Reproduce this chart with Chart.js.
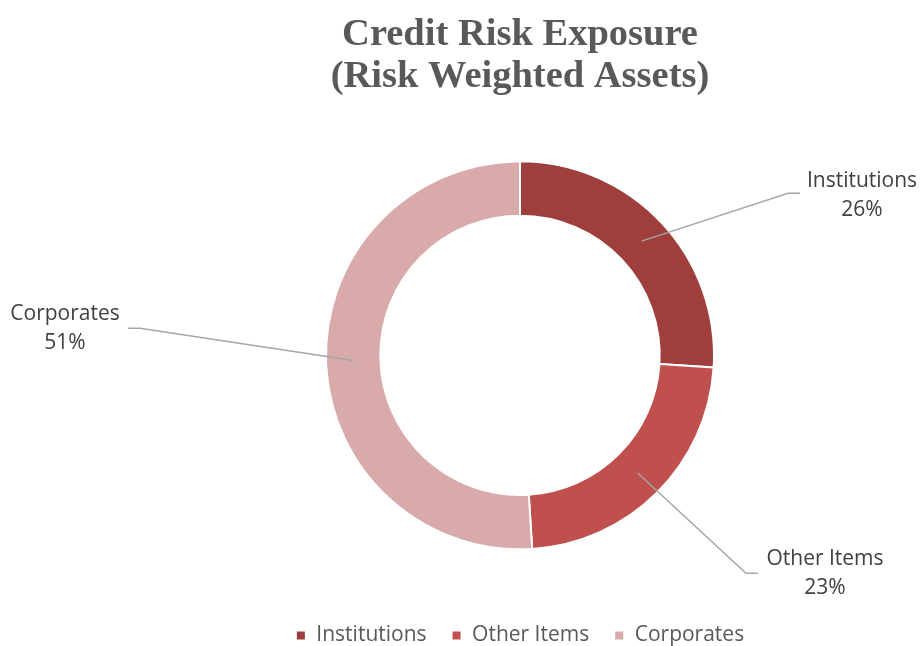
<!DOCTYPE html>
<html>
<head>
<meta charset="utf-8">
<script src="https://cdn.jsdelivr.net/npm/chart.js@4.4.1/dist/chart.umd.min.js"></script>
<style>
  html, body { margin: 0; padding: 0; background: #fff; }
  #wrap { width: 920px; height: 646px; }
</style>
</head>
<body>
<div id="wrap"><canvas id="chart"></canvas></div>
<script>
// data
const categories = ['Institutions', 'Other Items', 'Corporates'];
const shares = [26, 23, 51];
const sliceColors = ['#9E3F3D', '#C0504D', '#D9AAAA'];

// where each data label sits, relative to the doughnut centre
const labelLayout = [
  { elbow: [268, -162], tail: 12, text: [342, -160] },
  { elbow: [226, 218], tail: 12, text: [305, 218] },
  { elbow: [-380, -27], tail: -12, text: [-455, -27] }
];

const leaderLabels = {
  id: 'leaderLabels',
  afterDatasetsDraw(chart) {
    const ctx = chart.ctx;
    const meta = chart.getDatasetMeta(0);
    const total = shares.reduce((a, b) => a + b, 0);
    meta.data.forEach((arc, i) => {
      const p = arc.getProps(['x', 'y', 'startAngle', 'endAngle', 'innerRadius', 'outerRadius'], true);
      const mid = (p.startAngle + p.endAngle) / 2;
      const r = (p.innerRadius + p.outerRadius) / 2;
      const sx = p.x + Math.cos(mid) * r;
      const sy = p.y + Math.sin(mid) * r;
      const lay = labelLayout[i];
      const ex = p.x + lay.elbow[0], ey = p.y + lay.elbow[1];

      ctx.save();
      ctx.strokeStyle = '#A6A6A6';
      ctx.lineWidth = 1.5;
      ctx.beginPath();
      ctx.moveTo(sx, sy);
      ctx.lineTo(ex, ey);
      ctx.lineTo(ex + lay.tail, ey);
      ctx.stroke();

      ctx.fillStyle = '#404040';
      ctx.font = '21px "Open Sans", sans-serif';
      ctx.textAlign = 'center';
      ctx.textBaseline = 'middle';
      const tx = p.x + lay.text[0], ty = p.y + lay.text[1];
      ctx.fillText(categories[i], tx, ty - 14);
      ctx.fillText(Math.round(shares[i] / total * 100) + '%', tx, ty + 15);
      ctx.restore();
    });
  }
};

const ctx = document.getElementById('chart').getContext('2d');
new Chart(ctx, {
  type: 'doughnut',
  data: {
    labels: categories,
    datasets: [{
      data: shares,
      backgroundColor: sliceColors,
      borderColor: '#ffffff',
      borderWidth: 2,
      radius: 194,
      cutout: '72%'
    }]
  },
  options: {
    responsive: true,
    maintainAspectRatio: false,
    animation: false,
    layout: { padding: { left: 120, top: 0, bottom: -10 } },
    plugins: {
      title: {
        display: true,
        text: ['Credit Risk Exposure', '(Risk Weighted Assets)'],
        color: '#595959',
        font: { family: '"Liberation Serif", serif', size: 38.5, weight: 'bold', lineHeight: 1.1 },
        padding: { top: 14, bottom: 12 }
      },
      legend: {
        position: 'bottom',
        labels: {
          boxWidth: 10,
          boxHeight: 10,
          color: '#595959',
          padding: 25,
          font: { family: '"Open Sans", sans-serif', size: 21 }
        }
      },
      tooltip: { enabled: false }
    }
  },
  plugins: [leaderLabels]
});
</script>
</body>
</html>
